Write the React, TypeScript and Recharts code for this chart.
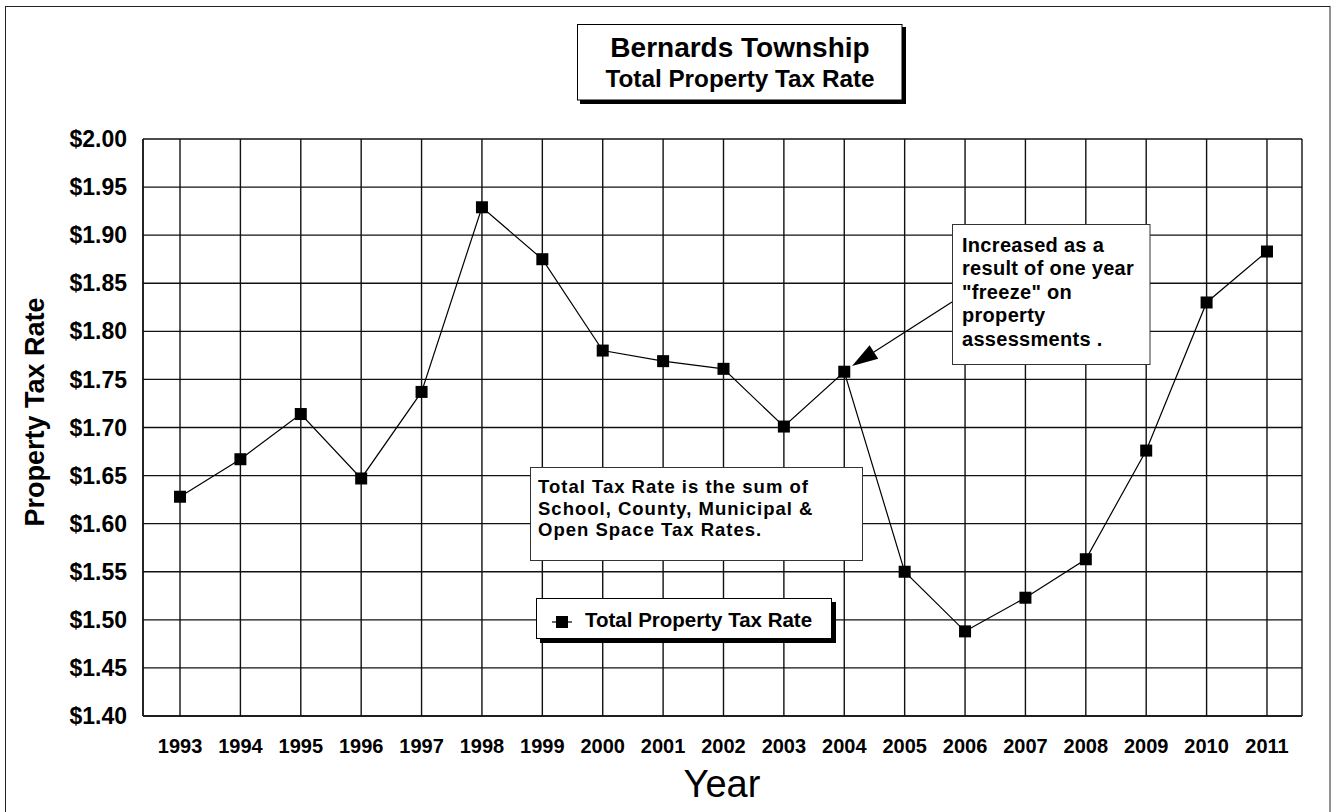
import React from 'react';
import { LineChart, Line, XAxis, YAxis, CartesianGrid, Legend } from 'recharts';

const years = [1993, 1994, 1995, 1996, 1997, 1998, 1999, 2000, 2001, 2002, 2003, 2004, 2005, 2006, 2007, 2008, 2009, 2010, 2011];
const taxRate = [1.628, 1.667, 1.714, 1.647, 1.737, 1.929, 1.875, 1.780, 1.769, 1.761, 1.701, 1.758, 1.550, 1.488, 1.523, 1.563, 1.676, 1.830, 1.883];
const yTicks = [1.4, 1.45, 1.5, 1.55, 1.6, 1.65, 1.7, 1.75, 1.8, 1.85, 1.9, 1.95, 2.0];
const seriesName = 'Total Property Tax Rate';
const titleLines = ['Bernards Township', 'Total Property Tax Rate'];
const noteFreeze = ['Increased as a', 'result of one year', '"freeze" on', 'property', 'assessments .'];
const noteSum = ['Total Tax Rate is the sum of', 'School, County, Municipal &', 'Open Space Tax Rates.'];

const data = years.map((y, i) => ({ year: y, rate: taxRate[i] }));

const FONT = '"Liberation Sans", Arial, Helvetica, sans-serif';

const SquareDot = (props: any) => {
  const { cx, cy } = props;
  if (cx == null || cy == null) return null;
  return <rect x={cx - 6} y={cy - 6} width={12} height={12} fill="#000" />;
};

const LegendBox = () => (
  <svg width={302} height={47} style={{ display: 'block', overflow: 'visible' }}>
    <rect x={4} y={4} width={296} height={41} fill="#000" />
    <rect x={0.5} y={0.5} width={295} height={40} fill="#fff" stroke="#000" strokeWidth={1} />
    <line x1={16} y1={24} x2={36} y2={24} stroke="#000" strokeWidth={1.2} />
    <rect x={20} y={18} width={12} height={12} fill="#000" />
    <text x={49} y={29} fontFamily={FONT} fontWeight="bold" fontSize={20.5} fill="#000">{seriesName}</text>
  </svg>
);

export default function App() {
  // arrow geometry (annotation)
  const ax1 = 952, ay1 = 302, tx = 852, ty = 366;
  const dx = ax1 - tx, dy = ay1 - ty;
  const len = Math.sqrt(dx * dx + dy * dy);
  const ux = dx / len, uy = dy / len;
  const bx = tx + ux * 26, by = ty + uy * 26;
  const px = -uy * 8, py = ux * 8;

  return (
    <div style={{ position: 'absolute', left: 0, top: 0, width: 1335, height: 812, background: '#fff' }}>
      <LineChart width={1335} height={812} data={data} margin={{ top: 139, right: 33, left: 63, bottom: 66 }}>
        <CartesianGrid stroke="#111" strokeWidth={1.4} strokeOpacity={1} />
        <XAxis
          dataKey="year"
          type="number"
          domain={[1992.387, 2011.58]}
          ticks={years}
          interval={0}
          height={30}
          tickSize={0}
          tickMargin={23}
          axisLine={{ stroke: '#111', strokeWidth: 1.4 }}
          tickLine={false}
          tick={{ fontFamily: FONT, fontWeight: 'bold', fontSize: 20, fill: '#000' }}
        />
        <XAxis
          xAxisId="top"
          orientation="top"
          type="number"
          domain={[1992.387, 2011.58]}
          height={0}
          tick={false}
          tickLine={false}
          axisLine={{ stroke: '#111', strokeWidth: 1.4 }}
        />
        <YAxis
          type="number"
          domain={[1.4, 2.0]}
          ticks={yTicks}
          interval={0}
          width={80}
          tickSize={0}
          tickMargin={16}
          axisLine={{ stroke: '#111', strokeWidth: 1.4 }}
          tickLine={false}
          tickFormatter={(v: number) => `$${v.toFixed(2)}`}
          tick={{ fontFamily: FONT, fontWeight: 'bold', fontSize: 23, fill: '#000' }}
        />
        <YAxis
          yAxisId="right"
          orientation="right"
          type="number"
          domain={[1.4, 2.0]}
          width={0}
          tick={false}
          tickLine={false}
          axisLine={{ stroke: '#111', strokeWidth: 1.4 }}
        />
        <Legend
          layout="horizontal"
          verticalAlign="middle"
          align="center"
          wrapperStyle={{ left: 536, top: 598, width: 302, height: 47 }}
          content={() => <LegendBox />}
        />
        <Line
          type="linear"
          dataKey="rate"
          name={seriesName}
          stroke="#000"
          strokeWidth={1.2}
          dot={<SquareDot />}
          activeDot={false}
          isAnimationActive={false}
        />
      </LineChart>

      <svg
        width={1335}
        height={812}
        style={{ position: 'absolute', left: 0, top: 0, pointerEvents: 'none' }}
      >
        {/* outer frame */}
        <rect x={5.5} y={6.5} width={1324.5} height={820} fill="none" stroke="#222" strokeWidth={1} />

        {/* title box */}
        <rect x={580} y={27} width={326} height={77} fill="#000" />
        <rect x={577.5} y={24.5} width={324.5} height={75.5} fill="#fff" stroke="#000" strokeWidth={1} />
        <text x={740} y={57} textAnchor="middle" fontFamily={FONT} fontWeight="bold" fontSize={28} fill="#000">{titleLines[0]}</text>
        <text x={740} y={87} textAnchor="middle" fontFamily={FONT} fontWeight="bold" fontSize={24.3} fill="#000">{titleLines[1]}</text>

        {/* freeze note */}
        <rect x={952.5} y={224.5} width={197.5} height={140} fill="#fff" stroke="#333" strokeWidth={1} />
        <text fontFamily={FONT} fontWeight="bold" fontSize={20} letterSpacing={0.3} fill="#000">
          {noteFreeze.map((t, i) => (
            <tspan key={i} x={962} y={252 + i * 23.4}>{t}</tspan>
          ))}
        </text>
        <line x1={ax1} y1={ay1} x2={bx} y2={by} stroke="#000" strokeWidth={1.2} />
        <polygon points={`${tx},${ty} ${bx + px},${by + py} ${bx - px},${by - py}`} fill="#000" />

        {/* sum note */}
        <rect x={530.5} y={467.5} width={332} height={93} fill="#fff" stroke="#333" strokeWidth={1} />
        <text fontFamily={FONT} fontWeight="bold" fontSize={18.5} letterSpacing={1.0} fill="#000">
          {noteSum.map((t, i) => (
            <tspan key={i} x={538} y={493 + i * 21.5}>{t}</tspan>
          ))}
        </text>

        {/* axis titles */}
        <text
          x={44}
          y={412}
          transform="rotate(-90 44 412)"
          textAnchor="middle"
          fontFamily={FONT}
          fontWeight="bold"
          fontSize={27}
          fill="#000"
        >
          Property Tax Rate
        </text>
        <text x={722} y={797} textAnchor="middle" fontFamily={FONT} fontSize={38} fill="#000">Year</text>
      </svg>
    </div>
  );
}
